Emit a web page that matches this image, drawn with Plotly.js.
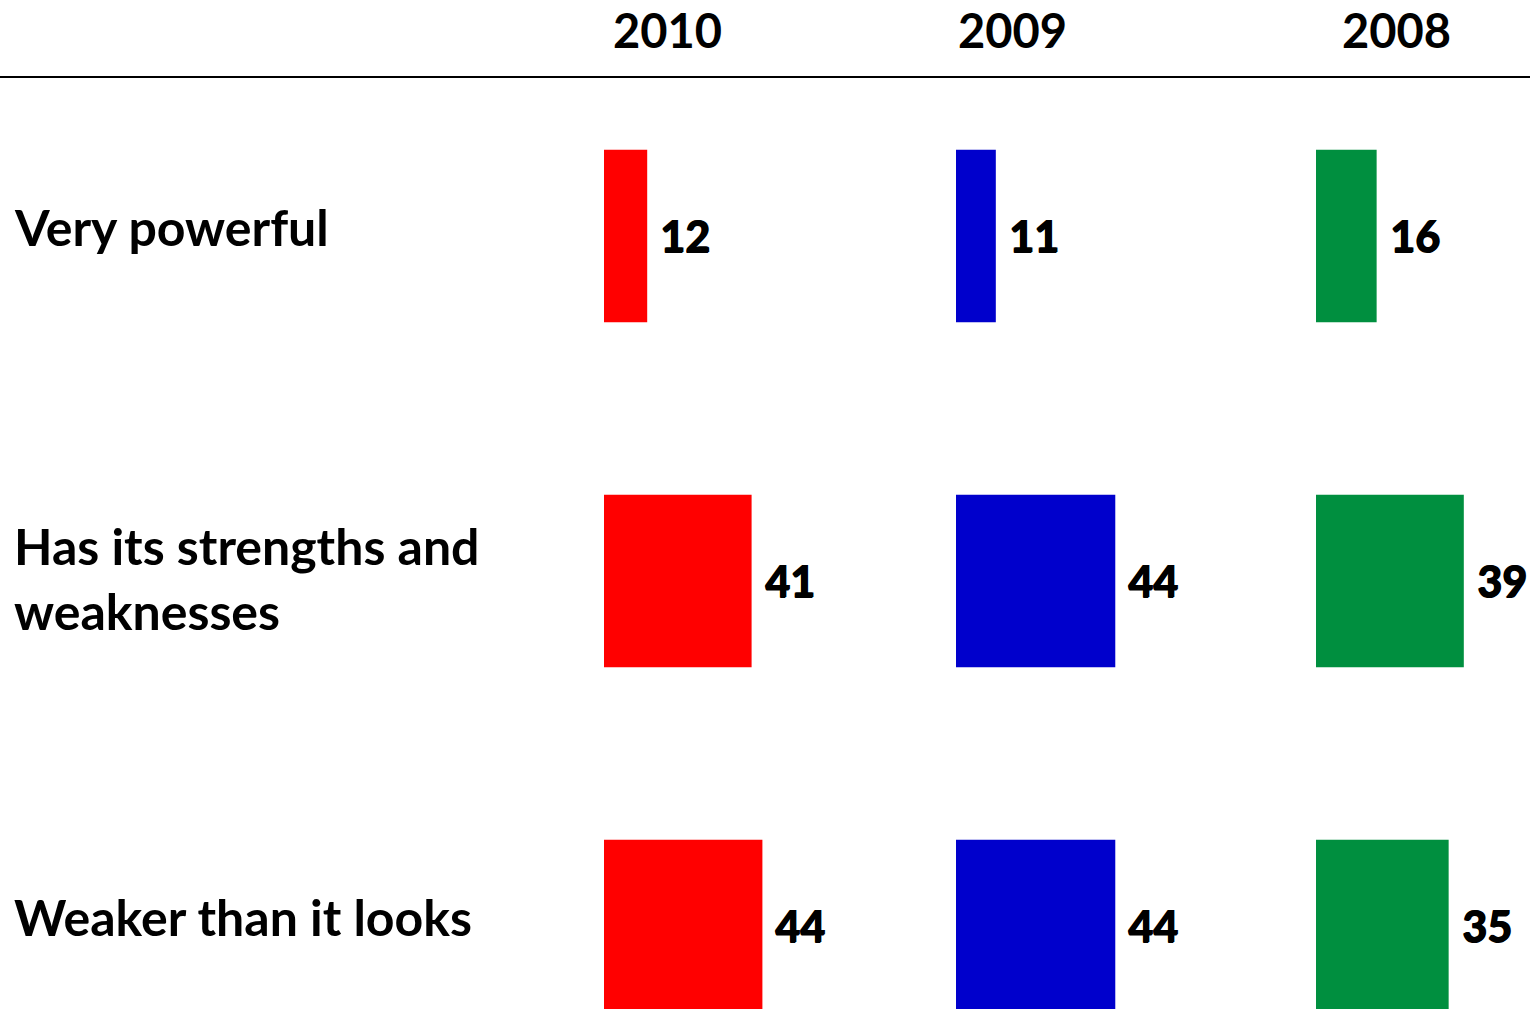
<!DOCTYPE html>
<html>
<head>
<meta charset="utf-8">
<script src="https://cdn.plot.ly/plotly-3.0.1.min.js"></script>
<style>html,body{margin:0;padding:0;background:#fff;}#chart{width:1530px;height:1009px;}</style>
</head>
<body>
<div id="chart"></div>
<script>
const categories = ["Very powerful", "Has its strengths and<br>weaknesses", "Weaker than it looks"];
const years = ["2010", "2009", "2008"];
const values2010 = [12, 41, 44];
const values2009 = [11, 44, 44];
const values2008 = [16, 39, 35];
const seriesValues = [values2010, values2009, values2008];
const colors = ["#FF0000", "#0000CC", "#008F3F"];

const axisKeys = ["x", "x2", "x3"];
const FONT = "Lato, 'Open Sans', sans-serif";

const traces = seriesValues.map((vals, i) => ({
  type: "bar",
  orientation: "h",
  x: vals,
  y: categories,
  xaxis: axisKeys[i],
  yaxis: "y",
  width: 0.5,
  marker: {color: colors[i], line: {width: 0}},
  hoverinfo: "x+y",
  name: years[i],
  showlegend: false
}));

const annotations = [];
// data labels
seriesValues.forEach((vals, i) => {
  vals.forEach((v, j) => {
    annotations.push({
      xref: axisKeys[i], yref: "y", x: v, y: categories[j],
      text: String(v), showarrow: false, xanchor: "left", yanchor: "middle",
      xshift: 11, yshift: 0,
      font: {family: FONT, size: 43, weight: 900, color: "#000", shadow: "1px 0 0 #000, 0 1px 0 #000"}
    });
  });
});
// category labels
const labelShift = [9, 2, 9];
categories.forEach((c, j) => {
  annotations.push({
    xref: "paper", yref: "y", x: 12 / 1530, y: c, text: c, showarrow: false,
    xanchor: "left", yanchor: "middle", align: "left", yshift: labelShift[j],
    font: {family: FONT, size: 50, weight: 700, color: "#000"}
  });
});
// year headers
const headerX = [667, 1012, 1396];
years.forEach((yr, i) => {
  annotations.push({
    xref: "paper", yref: "paper", x: headerX[i] / 1530, y: 1 - 30 / 1009, text: yr,
    showarrow: false, xanchor: "center", yanchor: "middle",
    font: {family: FONT, size: 47, weight: 700, color: "#000"}
  });
});

const hiddenX = {showgrid: false, zeroline: false, showline: false, showticklabels: false, ticks: "", fixedrange: true};
const layout = {
  width: 1530, height: 1009,
  margin: {l: 0, r: 0, t: 0, b: 0, pad: 0},
  paper_bgcolor: "#fff", plot_bgcolor: "#fff",
  showlegend: false,
  xaxis: Object.assign({domain: [604 / 1530, 940 / 1530], range: [0, 336 / 3.6]}, hiddenX),
  xaxis2: Object.assign({domain: [956 / 1530, 1300 / 1530], range: [0, 344 / 3.62], anchor: "y"}, hiddenX),
  xaxis3: Object.assign({domain: [1316 / 1530, 1], range: [0, 214 / 3.79], anchor: "y"}, hiddenX),
  yaxis: {type: "category", categoryorder: "array", categoryarray: categories,
          range: [2.241, -0.684], showgrid: false, zeroline: false, showline: false,
          showticklabels: false, ticks: "", fixedrange: true},
  shapes: [{type: "line", xref: "paper", yref: "paper", x0: 0, x1: 1,
            y0: 1 - 77 / 1009, y1: 1 - 77 / 1009, line: {color: "#000", width: 2}}],
  annotations: annotations
};

Plotly.newPlot("chart", traces, layout, {displayModeBar: false, staticPlot: true});
</script>
</body>
</html>
